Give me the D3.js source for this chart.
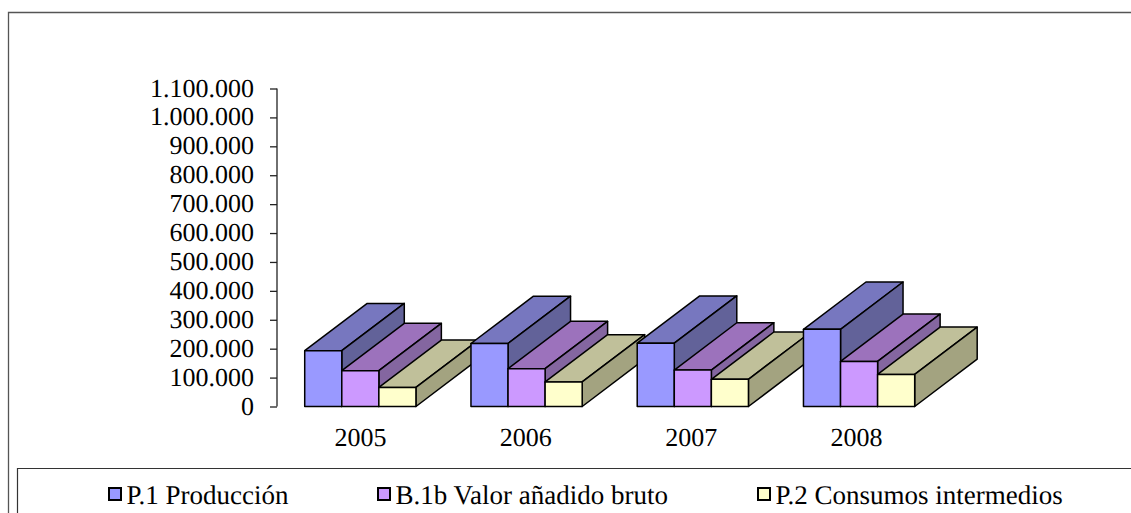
<!DOCTYPE html>
<html><head><meta charset="utf-8">
<style>html,body{margin:0;padding:0;background:#fff}svg{display:block}text{font-family:"Liberation Serif",serif;fill:#000;text-rendering:geometricPrecision}</style>
<script src="https://cdn.jsdelivr.net/npm/d3@7/dist/d3.min.js"></script></head>
<body><script>
const categories = ["2005","2006","2007","2008"];
const seriesNames = ["P.1 Producción","B.1b Valor añadido bruto","P.2 Consumos intermedios"];
const produccion = [193000,218000,219000,267000];
const valorAnadido = [124000,131000,126000,156000];
const consumos = [66000,85000,94000,111000];
const tickValues = [0,100000,200000,300000,400000,500000,600000,700000,800000,900000,1000000,1100000];
const frontColors = ["#9999ff","#cc99ff","#ffffcc"];
const topColors = ["#7777bf","#9c72bc","#c0c09a"];
const sideColors = ["#626299","#8466a0","#a3a380"];
const legendX = [108,377,757];

const W=1131,H=513, depthX=62.5, depthY=47.3;
const svg=d3.select("body").append("svg").attr("width",W).attr("height",H);
const y=d3.scaleLinear().domain([0,1100000]).range([406.5,88.5]);
const x=d3.scaleBand().domain(categories).range([277.2,942.2]).paddingInner(0.331).paddingOuter(0.1655);
const sx=d3.scaleBand().domain(seriesNames).range([0,x.bandwidth()]);
const labelX=d3.scalePoint().domain(categories).range([360.5,856.5]);
const fmt=v=>d3.format(",")(v).replace(/,/g,".");

svg.append("path").attr("d",`M${W},12.5H8.5V${H}`).attr("fill","none").attr("stroke","#555").attr("stroke-width",1.3);
svg.append("path").attr("d",`M${W},468.5H17.5V${H}`).attr("fill","none").attr("stroke","#333").attr("stroke-width",1.2);

const ax=svg.append("g").attr("transform","translate(277,0)")
 .call(d3.axisLeft(y).tickValues(tickValues).tickFormat(fmt).tickSize(7).tickPadding(16));
ax.selectAll("path,line").attr("stroke","#222").attr("stroke-width",1.3);
ax.select(".domain").attr("d","M0,88.5V406.5");
ax.selectAll("text").attr("font-size",26).attr("font-family","Liberation Serif").attr("dy","0.29em").attr("fill","#000");

const all=[produccion,valorAnadido,consumos];
categories.forEach((c,i)=>{
  const g=svg.append("g");
  seriesNames.forEach((s,k)=>{
    const x0=x(c)+sx(s), x1=x0+sx.bandwidth(), yb=y(0), yt=y(all[k][i]);
    const poly=(pts,f)=>g.append("polygon").attr("points",pts.map(p=>p.join(",")).join(" "))
       .attr("fill",f).attr("stroke","#000").attr("stroke-width",1.5).attr("stroke-linejoin","round");
    poly([[x0,yt],[x1,yt],[x1+depthX,yt-depthY],[x0+depthX,yt-depthY]],topColors[k]);
    poly([[x1,yt],[x1+depthX,yt-depthY],[x1+depthX,yb-depthY],[x1,yb]],sideColors[k]);
    poly([[x0,yt],[x1,yt],[x1,yb],[x0,yb]],frontColors[k]);
  });
  svg.append("text").attr("x",labelX(c)).attr("y",446).attr("text-anchor","middle").attr("font-size",26).text(c);
});

seriesNames.forEach((s,k)=>{
  svg.append("rect").attr("x",legendX[k]+1).attr("y",488).attr("width",12).attr("height",12)
    .attr("fill",frontColors[k]).attr("stroke","#000").attr("stroke-width",2);
  svg.append("text").attr("x",legendX[k]+18.5).attr("y",504).attr("font-size",27).text(s);
});
</script></body></html>
